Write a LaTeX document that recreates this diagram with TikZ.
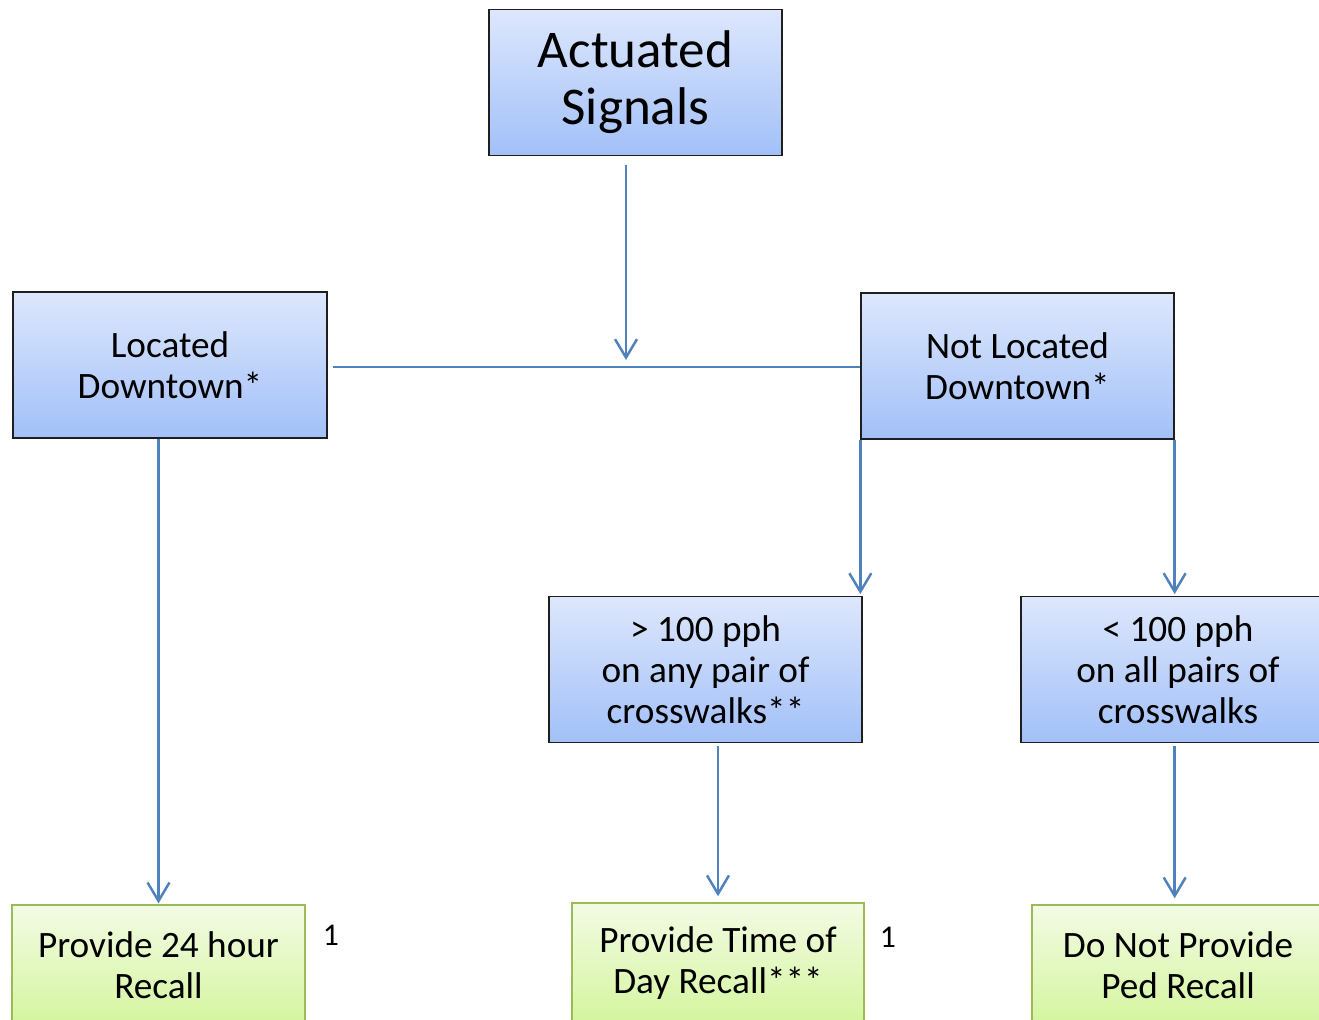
\documentclass[tikz,border=0pt]{standalone}
\usepackage{fontspec}
\setmainfont{Carlito}
\usetikzlibrary{arrows.meta}

\definecolor{flowblue}{HTML}{4F81BD}
\definecolor{bluetop}{HTML}{DDE7FC}
\definecolor{bluebot}{HTML}{A2C0F8}
\definecolor{greentop}{HTML}{F3FBE4}
\definecolor{greenbot}{HTML}{D4F59E}
\definecolor{greenedge}{HTML}{9BBB59}
\definecolor{boxedge}{HTML}{1F1F1F}

\tikzset{
  bluebox/.style={draw=boxedge, line width=0.8pt, top color=bluetop, bottom color=bluebot,
    align=center, inner sep=0pt, minimum height=2.92cm,
    font=\fontsize{21.2}{23.3}\selectfont},
  greenbox/.style={draw=greenedge, line width=0.9pt, top color=greentop, bottom color=greenbot,
    align=center, inner sep=0pt, minimum height=2.4cm,
    font=\fontsize{21.2}{23.3}\selectfont},
  link/.style={draw=flowblue, line width=1.4pt},
  flow/.style={link, -{Straight Barb[length=10.5pt,width=12.5pt,line width=1.4pt]}},
  note/.style={inner sep=0pt, font=\fontsize{18}{20}\selectfont}
}

\begin{document}
\begin{tikzpicture}[x=0.02cm, y=-0.02cm, line cap=butt]
        \useasboundingbox (0,0) rectangle (1319,1019);

        % ---- boxes ----
        \node[bluebox, minimum width=5.86cm, font=\fontsize{30.2}{32.5}\selectfont] (act) at (635.5,82.5) {Actuated\\Signals};
        \node[bluebox, minimum width=6.28cm] (loc) at (170,365) {Located\\Downtown*};
        \node[bluebox, minimum width=6.26cm] (notloc) at (1017.5,366) {Not Located\\Downtown*};
        \node[bluebox, minimum width=6.26cm] (gt) at (705.5,669.5) {> 100 pph\\on any pair of\\crosswalks**};
        \node[bluebox, minimum width=6.28cm] (lt) at (1178,669.5) {< 100 pph\\on all pairs of\\crosswalks};
        \node[greenbox, minimum width=5.86cm] (p24) at (158.5,965) {Provide 24 hour\\Recall};
        \node[greenbox, minimum width=5.84cm] (tod) at (718,963) {Provide Time of\\Day Recall***};
        \node[greenbox, minimum width=5.84cm] (nope) at (1178,965) {Do Not Provide\\Ped Recall};

        % ---- footnote marks ----
        \node[note] (m1) at (331,935) {1};
        \node[note] (m2) at (888,937) {1};

        % ---- split under the top box ----
        \coordinate (split) at (626,367);
        \draw[flow, shorten <=5pt, shorten >=4pt] (act.south -| split) -- (split);
        \draw[link, shorten <=2.8pt] (loc.east |- split) -- (notloc.west |- split);

        % ---- branches ----
        \draw[flow, shorten >=0.5pt] (loc.south -| p24) -- (p24.north);
        \draw[flow, shorten >=1pt] (notloc.south west) -- (notloc.south west |- gt.north);
        \draw[flow, shorten >=1pt] (notloc.south east) -- (notloc.south east |- lt.north);
        \draw[flow, shorten <=1.7pt, shorten >=3.4pt] (gt.south -| tod) -- (tod.north);
        \draw[flow, shorten <=1.7pt, shorten >=3.4pt] (lt.south -| notloc.east) -- (nope.north -| notloc.east);
    \end{tikzpicture}
\end{document}
